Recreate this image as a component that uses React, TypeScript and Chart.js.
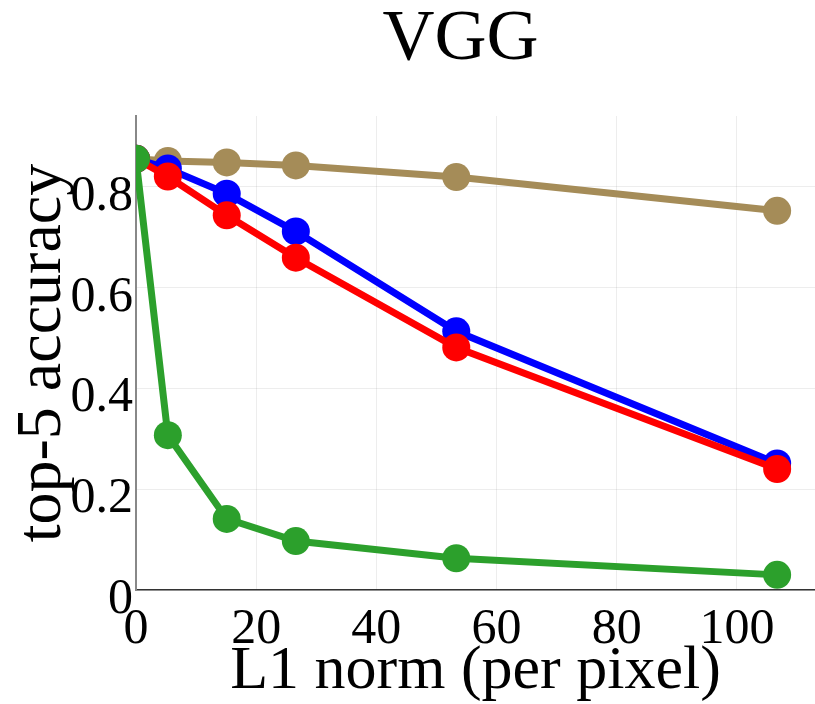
import { useEffect, useRef } from "react";
import { Chart, registerables } from "chart.js";

Chart.register(...registerables);

const titleText = "VGG";
const xAxisTitle = "L1 norm (per pixel)";
const yAxisTitle = "top-5 accuracy";

const xValues = [0, 5.3, 15.1, 26.6, 53.3, 106.7];
const tanValues = [0.855, 0.851, 0.848, 0.842, 0.819, 0.752];
const blueValues = [0.855, 0.836, 0.786, 0.711, 0.513, 0.251];
const redValues = [0.855, 0.82, 0.743, 0.659, 0.481, 0.24];
const greenValues = [0.855, 0.307, 0.141, 0.097, 0.063, 0.03];

const yTicks = [0, 0.2, 0.4, 0.6, 0.8];
const xTicks = [0, 20, 40, 60, 80, 100];

const FONT = "'Liberation Serif', 'Times New Roman', serif";

const toPoints = (vals: number[]) => xValues.map((x, i) => ({ x, y: vals[i] }));

const titlePlugin = {
  id: "customTitle",
  afterDraw(chart: any) {
    const { ctx, chartArea } = chart;
    ctx.save();
    ctx.font = `72px ${FONT}`;
    ctx.fillStyle = "#000";
    ctx.textAlign = "center";
    ctx.textBaseline = "middle";
    ctx.fillText(titleText, (chartArea.left + chartArea.right) / 2 - 15, 40);
    ctx.restore();
  },
};

export default function App() {
  const ref = useRef<HTMLCanvasElement>(null);

  useEffect(() => {
    if (!ref.current) return;
    const series = [
      { label: "green", data: greenValues, color: "#2ca02c" },
      { label: "red", data: redValues, color: "#ff0000" },
      { label: "blue", data: blueValues, color: "#0000ff" },
      { label: "tan", data: tanValues, color: "#a58c58" },
    ];
    const chart = new Chart(ref.current, {
      type: "line",
      data: {
        datasets: series.map((s) => ({
          label: s.label,
          data: toPoints(s.data),
          borderColor: s.color,
          backgroundColor: s.color,
          pointBackgroundColor: s.color,
          pointBorderWidth: 0,
          pointRadius: 14,
          borderWidth: 7,
          tension: 0,
          fill: false,
          clip: 0,
        })),
      },
      options: {
        responsive: false,
        animation: false,
        layout: { autoPadding: false, padding: { top: 116, left: 0, right: 0, bottom: 0 } },
        plugins: {
          legend: { display: false },
          tooltip: { enabled: false },
          title: { display: false },
        },
        scales: {
          x: {
            type: "linear",
            min: 0,
            max: 113,
            afterBuildTicks: (scale: any) => {
              scale.ticks = xTicks.map((v) => ({ value: v }));
            },
            afterFit: (scale: any) => {
              scale.height = 114;
              scale.paddingLeft = 0;
              scale.paddingRight = 0;
            },
            grid: {
              color: "rgba(0,0,0,0.07)",
              lineWidth: 1,
              drawTicks: false,
            },
            border: { display: true, color: "#333", width: 1.5 },
            ticks: {
              color: "#000",
              padding: 15,
              maxRotation: 0,
              font: { family: FONT, size: 50, lineHeight: 1 },
              callback: (v: any) => String(v),
            },
            title: {
              display: true,
              text: xAxisTitle,
              color: "#000",
              font: { family: FONT, size: 62, lineHeight: 1 },
              padding: { top: 0, bottom: 1 },
            },
          },
          y: {
            type: "linear",
            min: 0,
            max: 0.94,
            afterBuildTicks: (scale: any) => {
              scale.ticks = yTicks.map((v) => ({ value: v }));
            },
            afterFit: (scale: any) => {
              scale.width = 136;
              scale.paddingTop = 0;
              scale.paddingBottom = 0;
            },
            grid: {
              color: "rgba(0,0,0,0.07)",
              lineWidth: 1,
              drawTicks: false,
            },
            border: { display: true, color: "#888", width: 2 },
            ticks: {
              color: "#000",
              padding: 3,
              labelOffset: 10,
              font: { family: FONT, size: 50, lineHeight: 1 },
              callback: (v: any) => (Number(v) === 0 ? "0" : Number(v).toFixed(1)),
            },
            title: {
              display: true,
              text: yAxisTitle,
              color: "#000",
              font: { family: FONT, size: 64, lineHeight: 1 },
              padding: { top: 11, bottom: 0 },
            },
          },
        },
      },
      plugins: [titlePlugin],
    } as any);
    return () => chart.destroy();
  }, []);

  return (
    <div
      style={{
        position: "absolute",
        left: 0,
        top: 0,
        width: 815,
        height: 704,
        background: "#fff",
      }}
    >
      <canvas
        ref={ref}
        width={815}
        height={704}
        style={{ width: 815, height: 704, display: "block" }}
      />
    </div>
  );
}
